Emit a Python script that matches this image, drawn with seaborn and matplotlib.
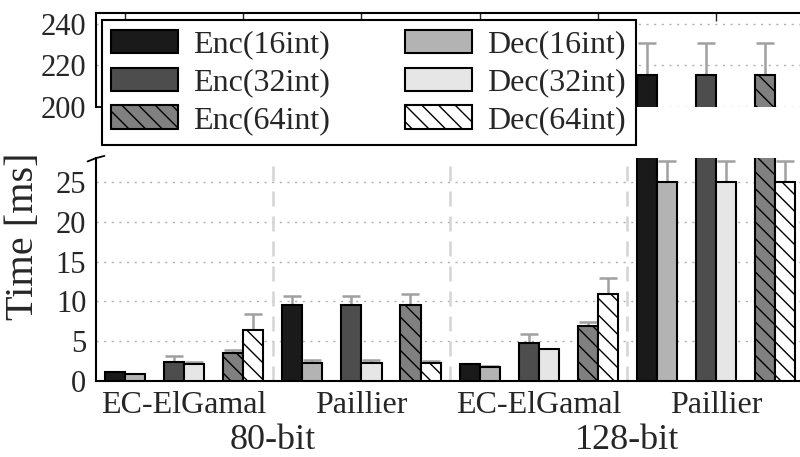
import matplotlib
matplotlib.use('Agg')
import matplotlib.pyplot as plt
from matplotlib.patches import Patch
import numpy as np
import pandas as pd
import seaborn as sns

# ---- data ----
bit_levels = ['80-bit', '128-bit']
schemes = ['EC-ElGamal', 'Paillier']
int_sizes = ['16int', '32int', '64int']

# one value per (bit level, scheme, int size), in that nesting order
enc_time = [1.1, 2.35, 3.5, 9.55, 9.55, 9.5, 2.2, 4.75, 6.9, 215.5, 215.5, 215.5]
enc_err = [0.1, 0.85, 0.4, 1.15, 1.15, 1.5, 0.0, 1.15, 0.5, 15.3, 15.3, 15.3]
dec_time = [0.85, 2.1, 6.4, 2.3, 2.3, 2.3, 1.8, 4.0, 10.9, 25.0, 25.0, 25.0]
dec_err = [0.05, 0.25, 2.0, 0.35, 0.35, 0.25, 0.05, 0.0, 2.0, 2.7, 2.7, 2.7]

slots = [f'{b}|{s}|{n}' for b in bit_levels for s in schemes for n in int_sizes]
df = pd.DataFrame({
    'slot': slots * 2,
    'op': ['Enc'] * len(slots) + ['Dec'] * len(slots),
    'time': enc_time + dec_time,
})
errs = {'Enc': enc_err, 'Dec': dec_err}

colors = {'Enc': ['#1a1a1a', '#4d4d4d', '#808080'],
          'Dec': ['#b3b3b3', '#e6e6e6', '#ffffff']}
hatches = ['', '', '\\\\']

sns.set_style('white')
plt.rcParams['font.family'] = ['Liberation Serif', 'DejaVu Serif']
plt.rcParams['hatch.linewidth'] = 1.0
plt.rcParams['hatch.color'] = 'black'

fig = plt.figure(figsize=(8, 4.57), dpi=100)
ax_top = fig.add_axes([0.12, 0.766, 0.88, 0.206])
ax_bot = fig.add_axes([0.12, 0.166, 0.88, 0.488])

for ax in (ax_top, ax_bot):
    sns.barplot(data=df, x='slot', y='time', hue='op', order=slots,
                hue_order=['Enc', 'Dec'], width=0.68, gap=0, errorbar=None,
                legend=False, ax=ax, zorder=3)
    for op, cont in zip(['Enc', 'Dec'], ax.containers):
        xs, hs = [], []
        for i, bar in enumerate(cont):
            k = i % 3
            bar.set_facecolor(colors[op][k])
            bar.set_edgecolor('black')
            bar.set_linewidth(1.5)
            bar.set_hatch(hatches[k])
            xs.append(bar.get_x() + bar.get_width() / 2)
            hs.append(bar.get_height())
        e = np.array(errs[op])
        ax.errorbar(xs, hs, yerr=[np.zeros_like(e), e], fmt='none',
                    ecolor='#a0a0a0', elinewidth=1.8, capsize=6.5,
                    capthick=1.8, zorder=2)
    ax.set_xlim(-0.49, 11.42)
    ax.set_xlabel('')
    ax.set_ylabel('')
    ax.yaxis.grid(True, linestyle=(0, (1.5, 4)), color='#b0b0b0', linewidth=1.0, zorder=0)
    ax.set_axisbelow(True)
    ax.spines['right'].set_visible(False)
    ax.tick_params(axis='y', labelsize=22, length=5, width=1.2, direction='out',
                   right=True, pad=2)
    for sp in ax.spines.values():
        sp.set_linewidth(1.5)
        sp.set_color('black')

# top panel
ax_top.set_ylim(200, 245.3)
ax_top.set_yticks([200, 220, 240])
ax_top.spines['bottom'].set_visible(False)
ax_top.set_xticks(range(0, 12, 2))
ax_top.tick_params(axis='x', bottom=False, top=True, labelbottom=False,
                   direction='in', length=6, width=1.0)

# bottom panel
ax_bot.set_ylim(0, 28)
ax_bot.set_yticks([0, 5, 10, 15, 20, 25])
ax_bot.spines['top'].set_visible(False)
ax_bot.set_xticks([1, 4, 7, 10])
ax_bot.set_xticklabels(schemes * 2, fontsize=23)
ax_bot.tick_params(axis='x', length=0, pad=7)
for xb in [2.5, 5.5, 8.5]:
    ax_bot.axvline(xb, color='#d4d4d4', linestyle=(0, (6, 4)), linewidth=1.8, zorder=1)
for xc, lab in zip([2.5, 8.5], bit_levels):
    ax_bot.text(xc, -0.265, lab, transform=ax_bot.get_xaxis_transform(),
                ha='center', va='center', fontsize=26)
ax_bot.set_ylabel('Time [ms]', fontsize=29)
ax_bot.yaxis.set_label_coords(-0.076, 0.65)

# break marks on the left spine
ax_top.plot([0, 0.012], [0, 0], transform=ax_top.transAxes, color='black',
            linewidth=1.3, clip_on=False)
ax_bot.plot([-0.012, 0, 0.012], [0.985, 1.0, 1.01], transform=ax_bot.transAxes,
            color='black', linewidth=1.3, clip_on=False)

handles = []
for op in ['Enc', 'Dec']:
    for k, n in enumerate(int_sizes):
        handles.append(Patch(facecolor=colors[op][k], edgecolor='black',
                             linewidth=1.5, hatch=hatches[k], label=f'{op}({n})'))
leg = fig.legend(handles=handles, ncol=2, loc='upper left',
                 bbox_to_anchor=(0.127, 0.956), fontsize=23, frameon=True,
                 fancybox=False, edgecolor='black', framealpha=1,
                 handlelength=2.1, handleheight=0.75, handletextpad=0.47,
                 columnspacing=2.35, labelspacing=0.25, borderpad=0.3,
                 borderaxespad=0)
leg.get_frame().set_linewidth(1.5)

fig.savefig('out.png', dpi=100)
